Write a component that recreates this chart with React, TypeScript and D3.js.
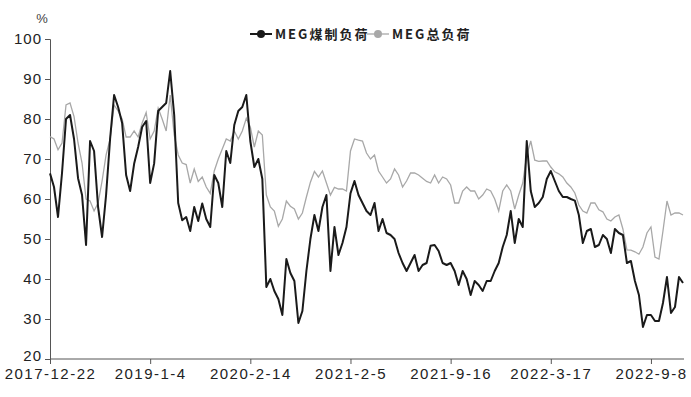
import { useEffect, useRef } from "react";
import * as d3 from "d3";

// weekly points, category axis; a label every 25 points
const tickLabels = ["2017-12-22", "2019-1-4", "2020-2-14", "2021-2-5", "2021-9-16", "2022-3-17", "2022-9-8"];
const seriesNames = ["MEG煤制负荷", "MEG总负荷"];

const coalLoad = [
  66.4, 63, 55.5, 66.5, 80, 81, 75, 65.2, 61, 48.5,
  74.5, 72, 58, 50.5, 61, 75, 86, 83, 79, 66,
  62, 68.8, 73, 78, 79.5, 64, 68.9, 82, 83, 84,
  92, 81, 59, 54.7, 55.5, 52, 58, 54.5, 58.9, 55,
  53, 66, 64, 58, 72, 69, 78.5, 82, 83, 86,
  74.5, 68, 70, 65, 38, 40, 37, 35, 31, 45,
  41.5, 39.5, 29, 32, 42, 50, 56, 52, 58, 61,
  42, 53, 46, 49, 53, 61.4, 64.5, 61, 59, 57,
  56, 59, 52, 55, 51.5, 51, 50, 46.5, 44, 42,
  44, 46, 42, 43.5, 44, 48.3, 48.5, 47, 44, 43.5,
  44, 42, 38.5, 42, 40, 36, 39.5, 38.5, 37, 39.5,
  39.5, 42, 44, 48, 51, 57, 49, 55, 53, 74.5,
  62, 58, 59, 60.5, 65, 67, 64.5, 62, 60.5, 60.5,
  60, 59.6, 56, 49, 52, 52.5, 48, 48.5, 51, 50,
  46.5, 52.5, 51.5, 51, 44, 44.5, 39.5, 36, 28, 31,
  31, 29.5, 29.5, 34, 40.5, 31.5, 33, 40.5, 39,
];

const totalLoad = [
  75.6, 75, 72.3, 74, 83.5, 84, 80.6, 74, 69, 60,
  59.5, 57, 59, 64.5, 71, 75, 83.5, 82, 80, 75.5,
  75.5, 77, 75.5, 79, 81.6, 75, 77, 82.7, 80, 77,
  86, 76, 71, 69, 68.6, 64, 67.5, 64.4, 65.5, 63,
  61.4, 67, 70, 72.5, 75, 74.5, 77, 75, 77, 80.2,
  78, 73, 77, 76, 61, 58, 57, 53.2, 55, 59.5,
  58.2, 57.5, 55, 56.5, 60.5, 64.2, 66.9, 65.5, 67, 64,
  61, 62.9, 62.5, 62.5, 62, 72, 75, 74.7, 74.5, 71.5,
  70, 71, 67, 65.5, 64, 65, 67.5, 66, 63, 64.5,
  66.5, 66.5, 66, 65.2, 64.4, 64, 66, 64, 65.5, 65,
  63.5, 59, 59, 62, 63, 62, 62, 60, 61, 62.5,
  62, 60, 57, 62, 63.5, 62, 57.5, 61, 64, 71,
  74.5, 69.7, 69.4, 69.5, 69.5, 68, 66.8, 66.3, 65.5, 64,
  63, 61.5, 58.5, 57, 56.5, 59, 59, 57.3, 56.8, 55,
  54.5, 55.5, 56, 52.5, 47.3, 47.2, 46.8, 46.2, 48, 51.5,
  53, 45.5, 45, 52, 59.5, 56, 56.5, 56.5, 56,
];

const yTicks = [20, 30, 40, 50, 60, 70, 80, 90, 100];

const App = () => {
  const ref: any = useRef<SVGSVGElement>(null);

  useEffect(() => {
    const WIDTH = 691;
    const HEIGHT = 397;
    const left = 50, right = 683, top = 39, bottom = 359;
    const font = "'Liberation Sans', Arial, sans-serif";

    const svg = d3.select(ref.current);
    svg.selectAll("*").remove();

    const x = d3.scaleLinear().domain([0, coalLoad.length - 1]).range([left, right]);
    const y = d3.scaleLinear().domain([20, 100]).range([bottom, top]);

    // y axis
    const yAxis = svg.append("g").attr("transform", `translate(${left},0)`)
      .call(d3.axisLeft(y).tickValues(yTicks).tickSize(5).tickPadding(3));
    yAxis.select(".domain").attr("stroke", "#555");
    yAxis.selectAll(".tick line").attr("stroke", "#555");
    yAxis.selectAll("text")
      .attr("font-family", font).attr("font-size", 15)
      .attr("letter-spacing", 1).attr("fill", "#222");
    // lift the bottom label a touch so it clears the date labels
    yAxis.selectAll("text").filter((d: any) => d === 20).attr("dy", "0.1em");

    svg.append("text")
      .attr("x", 42).attr("y", 23)
      .attr("text-anchor", "middle")
      .attr("font-family", font).attr("font-size", 13)
      .attr("fill", "#444")
      .text("%");

    // x axis
    const tickIdx = tickLabels.map((_, i) => i * 25);
    const xAxis = svg.append("g").attr("transform", `translate(0,${bottom})`)
      .call(d3.axisBottom(x).tickValues(tickIdx).tickSize(5).tickPadding(4)
        .tickFormat((d: any) => tickLabels[tickIdx.indexOf(d)]));
    xAxis.select(".domain").attr("stroke", "#555").attr("d", `M${left},0H${right + 1}`);
    xAxis.selectAll(".tick line").attr("stroke", "#555");
    xAxis.selectAll("text")
      .attr("font-family", font).attr("font-size", 15)
      .attr("letter-spacing", 1.5).attr("fill", "#222");

    const line = d3.line<number>().x((_, i) => x(i)).y((d) => y(d));

    svg.append("path").datum(totalLoad)
      .attr("d", line).attr("fill", "none")
      .attr("stroke", "#a8a8a8").attr("stroke-width", 1.3);

    svg.append("path").datum(coalLoad)
      .attr("d", line).attr("fill", "none")
      .attr("stroke", "#1a1a1a").attr("stroke-width", 2)
      .attr("stroke-linejoin", "round");

    // legend
    const colors = ["#1a1a1a", "#a8a8a8"];
    const legendX = [250, 367];
    seriesNames.forEach((name, i) => {
      const g = svg.append("g").attr("transform", `translate(${legendX[i]},34)`);
      g.append("line").attr("x1", 0).attr("x2", 22).attr("y1", 0).attr("y2", 0)
        .attr("stroke", colors[i]).attr("stroke-width", i === 0 ? 2 : 1.3);
      g.append("circle").attr("cx", 11).attr("cy", 0).attr("r", 4).attr("fill", colors[i]);
      g.append("text").attr("x", 25).attr("y", 5)
        .attr("font-family", "'Noto Sans CJK SC', sans-serif")
        .attr("font-size", 13).attr("font-weight", "bold")
        .attr("letter-spacing", 2).attr("fill", "#222")
        .text(name);
    });

    svg.attr("width", WIDTH).attr("height", HEIGHT);
  }, []);

  return (
    <svg ref={ref} width={691} height={397}
      style={{ position: "absolute", left: 0, top: 0, background: "#fff" }} />
  );
};

export default App;
